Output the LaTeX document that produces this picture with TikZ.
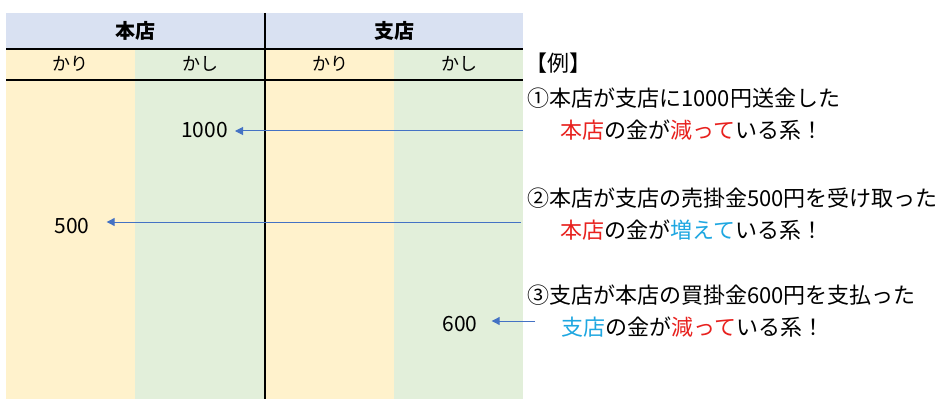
\documentclass[tikz,border=0pt]{standalone}
\usepackage{fontspec}
\newfontfamily\jp{Noto Sans CJK JP}
\usetikzlibrary{arrows.meta}
\definecolor{hdr}{HTML}{D9E1F2}
\definecolor{karic}{HTML}{FFF2CC}
\definecolor{kashic}{HTML}{E2EFDA}
\definecolor{arrc}{HTML}{4472C4}
\definecolor{tred}{HTML}{E8211E}
\definecolor{tblue}{HTML}{1EA7E1}
\begin{document}
\begin{tikzpicture}[x=1pt,y=-1pt,
  every node/.style={font=\jp, inner sep=0pt},
  hdrtext/.style={font=\jp\bfseries\fontsize{20}{24}\selectfont},
  subtext/.style={font=\jp\fontsize{18}{22}\selectfont},
  numtext/.style={font=\jp\fontsize{21}{25}\selectfont},
  extext/.style={font=\jp\fontsize{22}{26}\selectfont, anchor=west},
  rule/.style={line width=2pt, black},
  arrline/.style={arrc, line width=1pt, -{Triangle[length=8pt,width=8pt]}, shorten >=7pt}]
\useasboundingbox (0,0) rectangle (945,409);
\fill[white] (0,0) rectangle (945,409);
% table backgrounds
\fill[hdr] (6,13) rectangle (523,49);
\fill[karic] (6,49) rectangle (135,399);
\fill[kashic] (135,49) rectangle (265,399);
\fill[karic] (265,49) rectangle (394,399);
\fill[kashic] (394,49) rectangle (523,399);
\draw[rule] (6,49) -- (523,49);
\draw[rule] (6,80) -- (523,80);
\draw[rule] (265,13) -- (265,399);
% headers
\node[hdrtext] (h1) at (135,31) {本店};
\node[hdrtext] (h2) at (394,31) {支店};
\node[subtext] (s1) at (70,64) {かり};
\node[subtext] (s2) at (200,64) {かし};
\node[subtext] (s3) at (330,64) {かり};
\node[subtext] (s4) at (459,64) {かし};
% numbers
\node[numtext, anchor=east] (n1) at (228,130) {1000};
\node[numtext] (n2) at (72,226) {500};
\node[numtext] (n3) at (460,324) {600};
% arrows
\coordinate (a1) at (523,131);
\coordinate (a2) at (521,222);
\coordinate (a3) at (535,321);
\draw[arrline] (a1) -- (a1 -| n1.east);
\draw[arrline, shorten >=17pt] (a2) -- (a2 -| n2.east);
\draw[arrline, shorten >=14pt] (a3) -- (a3 -| n3.east);
% example texts
\node[extext] (e0) at (525,63) {【例】};
\node[extext] (e1) at (527,98) {①本店が支店に1000円送金した};
\node[extext] (e1b) at (560,130) {\textcolor{tred}{本店}の金が\textcolor{tred}{減って}いる系！};
\node[extext] (e2) at (527,198) {②本店が支店の売掛金500円を受け取った};
\node[extext] (e2b) at (560,230) {\textcolor{tred}{本店}の金が\textcolor{tblue}{増えて}いる系！};
\node[extext] (e3) at (527,295) {③支店が本店の買掛金600円を支払った};
\node[extext] (e3b) at (561,327) {\textcolor{tblue}{支店}の金が\textcolor{tred}{減って}いる系！};
\end{tikzpicture}
\end{document}
